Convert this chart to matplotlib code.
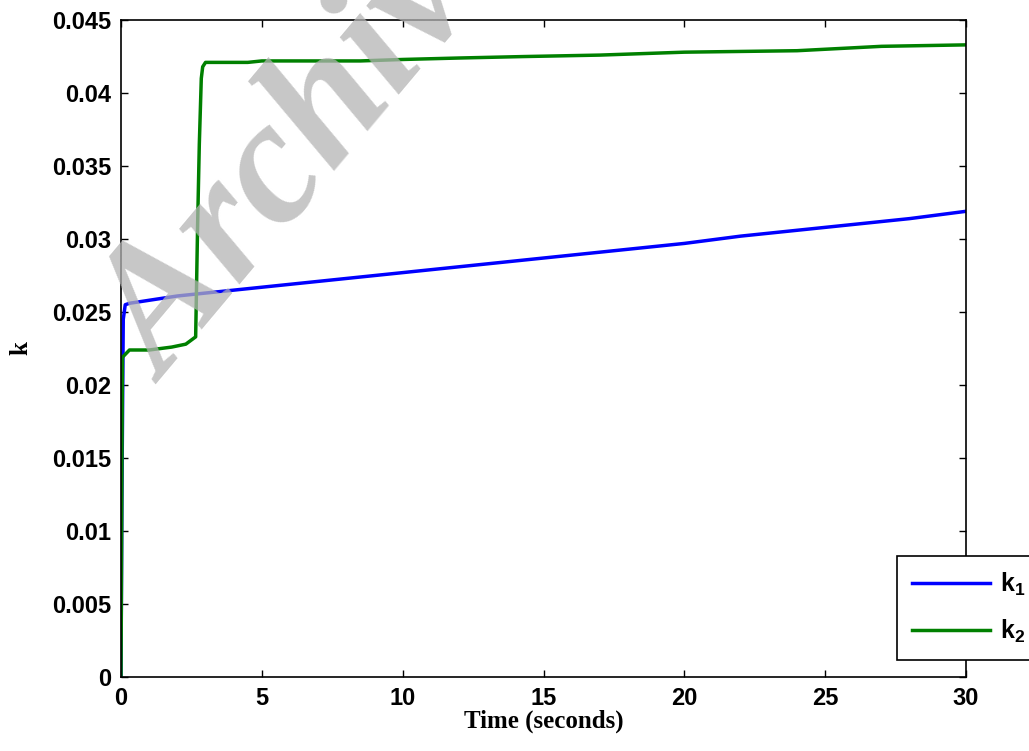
import numpy as np
import matplotlib.pyplot as plt

# gain trajectories read from the simulation run
t_k1 = [0, 0.03, 0.08, 0.15, 0.3, 2, 4, 6, 8, 10, 12, 14, 16, 18, 20, 22, 24, 26, 28, 30]
k1 = [0, 0.012, 0.0245, 0.0255, 0.0256, 0.0261, 0.0265, 0.0269, 0.0273, 0.0277,
      0.0281, 0.0285, 0.0289, 0.0293, 0.0297, 0.0302, 0.0306, 0.0310, 0.0314, 0.0319]

t_k2 = [0, 0.05, 0.3, 1.0, 1.8, 2.3, 2.65, 2.72, 2.78, 2.85, 2.9, 3.0, 4.5, 5.0,
        8.5, 10, 12, 14.3, 17, 20, 24, 27, 30]
k2 = [0, 0.0219, 0.0224, 0.0224, 0.0226, 0.0228, 0.0233, 0.0310, 0.0365, 0.0410,
      0.0418, 0.0421, 0.0421, 0.0422, 0.0422, 0.0423, 0.0424, 0.0425, 0.0426,
      0.0428, 0.0429, 0.0432, 0.0433]

xticks = [0, 5, 10, 15, 20, 25, 30]
yticks = [0, 0.005, 0.01, 0.015, 0.02, 0.025, 0.03, 0.035, 0.04, 0.045]
ytick_labels = ['0', '0.005', '0.01', '0.015', '0.02', '0.025', '0.03', '0.035', '0.04', '0.045']

plt.rcParams['mathtext.fontset'] = 'custom'
plt.rcParams['mathtext.bf'] = 'Liberation Sans:bold'
plt.rcParams['mathtext.rm'] = 'Liberation Sans:bold'

fig = plt.figure(figsize=(10.29, 7.51), dpi=100)
ax = fig.add_axes([0.1176, 0.0985, 0.8212, 0.8748])

ax.plot(t_k1, k1, color='#0000ff', lw=2.5, label='$\\mathbf{k_1}$')
ax.plot(t_k2, k2, color='#008000', lw=2.5, label='$\\mathbf{k_2}$')

ax.set_xlim(0, 30)
ax.set_ylim(0, 0.045)
ax.set_xticks(xticks)
ax.set_yticks(yticks)
ax.set_yticklabels(ytick_labels)
ax.tick_params(direction='in', top=True, right=True, length=5, width=1, pad=7)
for lab in ax.get_xticklabels() + ax.get_yticklabels():
    lab.set_family('Liberation Sans')
    lab.set_fontweight('bold')
    lab.set_fontsize(17)
for s in ax.spines.values():
    s.set_linewidth(1.2)

ax.set_xlabel('Time (seconds)', family='Liberation Serif', fontweight='bold', fontsize=18, labelpad=0)
ax.set_ylabel('k', family='Liberation Serif', fontweight='bold', fontsize=18, labelpad=14)

leg = fig.legend(loc='upper left', bbox_to_anchor=(897 / 1029, 1 - 556 / 751),
                 borderaxespad=0,
                 prop={'family': 'Liberation Sans', 'weight': 'bold', 'size': 18},
                 fancybox=False, edgecolor='black', framealpha=1,
                 handlelength=3.1, handletextpad=0.4, labelspacing=0.8,
                 borderpad=0.6)
leg.get_frame().set_linewidth(1.2)

# watermark across the plot
fig.text(165 / 1029, 1 - 385 / 751, 'Archive of SID', family='Liberation Serif',
         fontweight='bold', style='italic', fontsize=128, color='#b4b4b4', alpha=0.75,
         rotation=50, rotation_mode='anchor', ha='left', va='baseline', zorder=10)

fig.savefig('out.png', dpi=100)
